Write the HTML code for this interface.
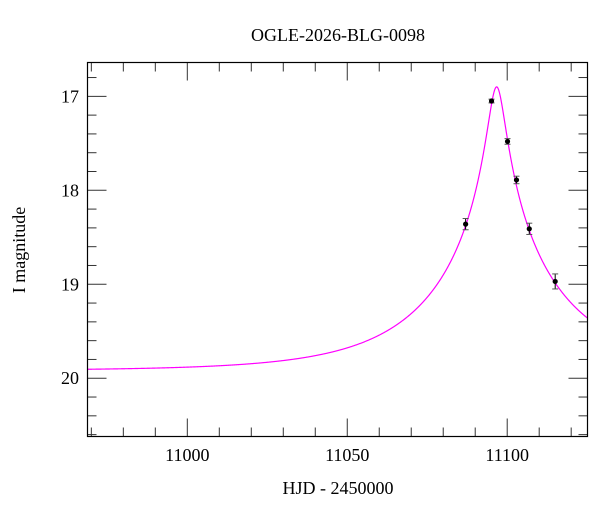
<!DOCTYPE html>
<html><head><meta charset="utf-8"><style>
html,body{margin:0;padding:0;background:#fff}
svg text{font-family:"Liberation Serif","DejaVu Serif",serif;fill:#000}
</style></head><body>
<svg id="chart" width="600" height="512" viewBox="0 0 600 512">
<text x="338" y="41" font-size="18" text-anchor="middle">OGLE-2026-BLG-0098</text>
<text x="338" y="494" font-size="18" text-anchor="middle">HJD - 2450000</text>
<text transform="translate(25,250) rotate(-90)" font-size="18" text-anchor="middle">I magnitude</text>
<g id="ticks"></g>
<g id="curve"></g>
<g id="points"></g>
<rect x="87.5" y="62.5" width="500" height="374" fill="none" stroke="#000" stroke-width="1.2"/>
</svg>
<script>
const obsTimes=[11087.0,11095.1,11100.1,11102.9,11106.9,11115.0];
const obsMags=[18.36,17.05,17.48,17.89,18.41,18.97];
const obsErrs=[0.06,0.02,0.03,0.04,0.06,0.08];
const modelParams=[11096.7,0.062,40.6,19.92]; // t0,u0,tE,baseline
const xTickLabels=[11000,11050,11100];
const yTickLabels=[17,18,19,20];
const X0=87.5,X1=587.5,Y0=62.5,Y1=436.5;
const xMin=10968.8,xMax=11125.1,yMin=16.64,yMax=20.62;
const sx=t=>X0+(t-xMin)/(xMax-xMin)*(X1-X0);
const sy=m=>Y0+(m-yMin)/(yMax-yMin)*(Y1-Y0);
const NS="http://www.w3.org/2000/svg";
function mk(tag,attrs,parent){const e=document.createElementNS(NS,tag);for(const k in attrs)e.setAttribute(k,attrs[k]);parent.appendChild(e);return e;}
const tk=document.getElementById('ticks');
for(let t=10970;t<=11120;t+=10){
  const major=t%50===0,L=major?18:9,x=sx(t);
  let e=mk('line',{x1:x,x2:x,y1:Y1,y2:Y1-L,stroke:'#333','stroke-width':1},tk);
  
  
  e=mk('line',{x1:x,x2:x,y1:Y0,y2:Y0+L,stroke:'#333','stroke-width':1},tk);
  
  
}
xTickLabels.forEach(v=>{const e=mk('text',{x:sx(v),y:461,'font-size':18,'text-anchor':'middle'},tk);e.textContent=v;
  
  });
for(let i=0;i<=19;i++){
  const m=16.8+i*0.2;if(m>yMax)break;
  const major=Math.abs(m-Math.round(m))<1e-6,L=major?19:9,y=sy(m);
  let e=mk('line',{x1:X0,x2:X0+L,y1:y,y2:y,stroke:'#333','stroke-width':1},tk);
  
  
  e=mk('line',{x1:X1,x2:X1-L,y1:y,y2:y,stroke:'#333','stroke-width':1},tk);
  
  
}
yTickLabels.forEach(v=>{const e=mk('text',{x:79,y:sy(v)+6,'font-size':18,'text-anchor':'end'},tk);e.textContent=v;
  
  });
function model(t){const [t0,u0,tE,base]=modelParams;const tau=(t-t0)/tE;const u=Math.sqrt(u0*u0+tau*tau);
  const A=(u*u+2)/(u*Math.sqrt(u*u+4));return base-2.5*Math.log10(A);}
let d='';for(let t=xMin;t<=xMax;t+=0.1){d+=(d?'L':'M')+sx(t).toFixed(2)+','+sy(model(t)).toFixed(2);}
const cv=mk('path',{d:d,fill:'none',stroke:'#ff00ff','stroke-width':1.2},document.getElementById('curve'));


const pg=document.getElementById('points');
obsTimes.forEach((t,i)=>{const x=sx(t),y=sy(obsMags[i]),ya=sy(obsMags[i]-obsErrs[i]),yb=sy(obsMags[i]+obsErrs[i]);
  const g=mk('g',{},pg);
  
  
  mk('line',{x1:x,x2:x,y1:ya,y2:yb,stroke:'#000','stroke-width':1},g);
  mk('line',{x1:x-3,x2:x+3,y1:ya,y2:ya,stroke:'#555','stroke-width':1},g);
  mk('line',{x1:x-3,x2:x+3,y1:yb,y2:yb,stroke:'#555','stroke-width':1},g);
  mk('circle',{cx:x,cy:y,r:2.6,fill:'#000'},g);});
</script>
</body></html>
